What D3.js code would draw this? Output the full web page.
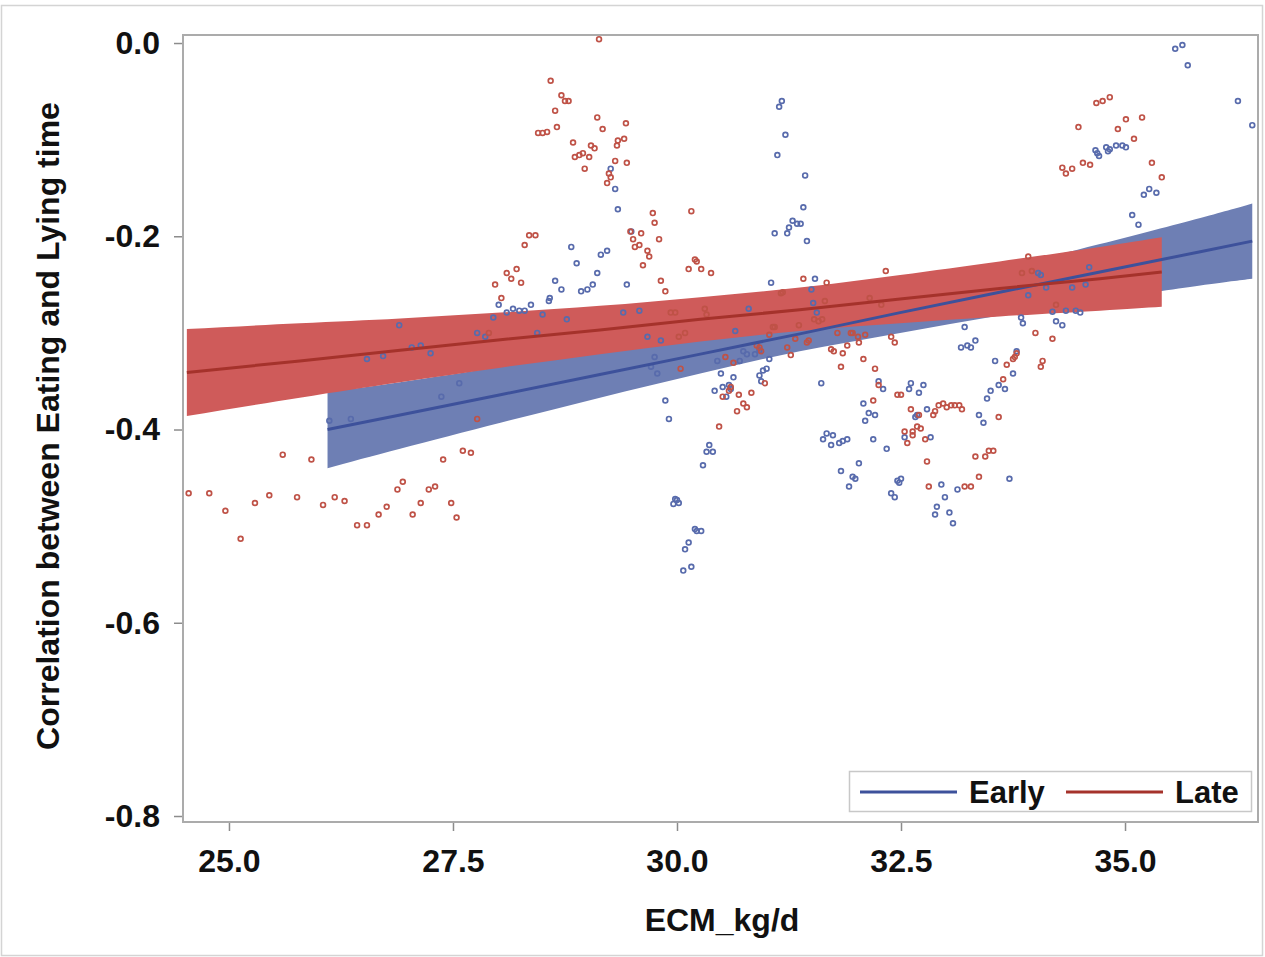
<!DOCTYPE html>
<html><head><meta charset="utf-8">
<script src="https://cdn.jsdelivr.net/npm/d3@7"></script>
<style>
html,body{margin:0;padding:0;background:#fff;}
svg{display:block;font-family:"Liberation Sans",Arial,sans-serif;}
</style></head>
<body>
<svg id="chart" width="1265" height="957"></svg>
<script>
// ---- data ----
const xTicks = [25.0, 27.5, 30.0, 32.5, 35.0];
const yTicks = [0.0, -0.2, -0.4, -0.6, -0.8];
const groups = ["Early", "Late"];

const earlyPoints = [[26.12,-0.391],[26.36,-0.389],[26.54,-0.327],[26.72,-0.324],[26.90,-0.292],[27.04,-0.315],[27.14,-0.313],[27.25,-0.321],[27.37,-0.366],[27.57,-0.352],[27.77,-0.300],[27.86,-0.304],[27.95,-0.284],[28.01,-0.271],[28.10,-0.279],[28.17,-0.275],[28.24,-0.277],[28.30,-0.277],[28.37,-0.271],[28.50,-0.281],[28.57,-0.267],[28.44,-0.300],[28.77,-0.286],[28.58,-0.264],[28.64,-0.246],[28.71,-0.255],[28.93,-0.257],[29.00,-0.255],[29.06,-0.250],[29.11,-0.238],[29.15,-0.219],[29.22,-0.215],[28.82,-0.211],[28.88,-0.228],[29.26,-0.130],[29.31,-0.151],[29.34,-0.172],[29.49,-0.195],[29.44,-0.250],[29.40,-0.279],[29.58,-0.277],[29.67,-0.304],[29.82,-0.308],[29.75,-0.325],[29.71,-0.335],[29.78,-0.342],[29.87,-0.370],[29.91,-0.389],[30.36,-0.416],[30.33,-0.423],[30.40,-0.423],[30.29,-0.437],[29.98,-0.472],[29.96,-0.477],[30.02,-0.476],[30.00,-0.473],[30.20,-0.503],[30.27,-0.505],[30.22,-0.505],[30.13,-0.517],[30.09,-0.524],[30.16,-0.542],[30.07,-0.546],[30.42,-0.360],[30.49,-0.342],[30.51,-0.356],[30.55,-0.366],[30.58,-0.354],[30.60,-0.358],[30.63,-0.346],[30.45,-0.329],[30.65,-0.298],[30.80,-0.275],[30.74,-0.319],[30.78,-0.322],[30.70,-0.329],[30.87,-0.322],[30.92,-0.318],[31.03,-0.327],[30.92,-0.344],[30.96,-0.339],[31.00,-0.337],[30.94,-0.350],[31.05,-0.248],[31.17,-0.060],[31.14,-0.066],[31.21,-0.095],[31.12,-0.116],[31.43,-0.137],[31.41,-0.170],[31.29,-0.184],[31.34,-0.187],[31.38,-0.187],[31.25,-0.191],[31.23,-0.197],[31.09,-0.197],[31.45,-0.205],[31.54,-0.244],[31.50,-0.255],[31.52,-0.269],[31.56,-0.279],[31.61,-0.352],[31.63,-0.410],[31.67,-0.404],[31.72,-0.416],[31.74,-0.406],[31.81,-0.414],[31.85,-0.412],[31.90,-0.410],[32.25,-0.350],[32.30,-0.358],[32.08,-0.373],[32.14,-0.383],[32.21,-0.385],[32.10,-0.391],[32.19,-0.410],[32.34,-0.420],[32.03,-0.435],[31.83,-0.443],[31.96,-0.449],[31.99,-0.451],[31.92,-0.459],[32.61,-0.352],[32.59,-0.358],[32.75,-0.354],[32.70,-0.362],[32.79,-0.379],[32.66,-0.387],[32.68,-0.385],[32.54,-0.408],[32.83,-0.408],[32.50,-0.451],[32.48,-0.455],[32.46,-0.453],[32.39,-0.466],[32.43,-0.470],[32.95,-0.457],[33.13,-0.462],[32.99,-0.470],[32.90,-0.480],[32.88,-0.488],[33.04,-0.486],[33.08,-0.497],[33.21,-0.294],[33.17,-0.315],[33.24,-0.313],[33.28,-0.315],[33.33,-0.308],[33.37,-0.385],[33.42,-0.393],[33.46,-0.368],[33.50,-0.360],[33.55,-0.329],[33.59,-0.354],[33.66,-0.358],[33.75,-0.342],[33.79,-0.319],[33.84,-0.284],[33.86,-0.290],[33.92,-0.261],[33.71,-0.451],[34.03,-0.238],[34.06,-0.240],[35.56,-0.006],[35.64,-0.002],[35.70,-0.023],[36.26,-0.060],[36.42,-0.085],[34.67,-0.111],[34.69,-0.114],[34.71,-0.117],[34.79,-0.108],[34.81,-0.112],[34.83,-0.110],[34.90,-0.106],[34.97,-0.106],[35.01,-0.108],[35.21,-0.157],[35.27,-0.151],[35.35,-0.155],[35.08,-0.178],[35.15,-0.188],[34.60,-0.232],[34.41,-0.253],[34.56,-0.250],[34.12,-0.253],[34.19,-0.278],[34.34,-0.277],[34.45,-0.277],[34.50,-0.279],[34.23,-0.288],[34.30,-0.292]];

const latePoints = [[24.55,-0.466],[24.78,-0.466],[24.96,-0.484],[25.13,-0.513],[25.29,-0.476],[25.45,-0.468],[25.60,-0.426],[25.76,-0.470],[25.92,-0.431],[26.05,-0.478],[26.18,-0.470],[26.29,-0.474],[26.43,-0.499],[26.54,-0.499],[26.67,-0.488],[26.76,-0.480],[26.88,-0.462],[26.94,-0.454],[29.13,0.004],[28.59,-0.039],[28.71,-0.054],[28.75,-0.060],[28.79,-0.060],[28.64,-0.070],[28.66,-0.087],[28.45,-0.093],[28.50,-0.093],[28.55,-0.092],[29.11,-0.077],[29.17,-0.089],[28.84,-0.103],[29.04,-0.106],[29.08,-0.109],[28.86,-0.118],[28.91,-0.116],[28.95,-0.114],[29.02,-0.118],[28.97,-0.130],[29.34,-0.101],[29.33,-0.106],[29.31,-0.122],[29.24,-0.135],[29.26,-0.139],[29.22,-0.145],[28.35,-0.199],[28.42,-0.199],[28.30,-0.209],[28.10,-0.238],[28.21,-0.234],[28.15,-0.244],[28.26,-0.248],[27.97,-0.250],[28.04,-0.264],[27.90,-0.300],[27.77,-0.389],[27.61,-0.422],[27.70,-0.424],[27.39,-0.431],[27.23,-0.462],[27.30,-0.459],[27.14,-0.476],[27.48,-0.476],[27.05,-0.488],[27.54,-0.491],[29.43,-0.083],[29.41,-0.099],[29.44,-0.124],[29.73,-0.176],[29.75,-0.186],[30.16,-0.174],[29.48,-0.195],[29.60,-0.197],[29.51,-0.203],[29.80,-0.203],[29.53,-0.211],[29.58,-0.209],[29.67,-0.215],[29.69,-0.221],[29.62,-0.230],[30.20,-0.224],[30.22,-0.226],[30.13,-0.234],[30.27,-0.234],[30.38,-0.238],[29.82,-0.246],[29.87,-0.257],[31.41,-0.244],[31.67,-0.248],[31.16,-0.259],[29.93,-0.279],[29.98,-0.279],[30.31,-0.275],[30.33,-0.281],[30.02,-0.304],[30.09,-0.300],[30.04,-0.337],[30.54,-0.325],[30.63,-0.331],[30.51,-0.366],[30.58,-0.360],[30.60,-0.356],[30.69,-0.364],[30.83,-0.362],[30.74,-0.373],[30.78,-0.377],[30.67,-0.381],[30.47,-0.397],[30.89,-0.313],[30.94,-0.319],[30.92,-0.315],[30.98,-0.352],[31.03,-0.302],[31.07,-0.294],[31.09,-0.294],[31.23,-0.315],[31.27,-0.323],[31.32,-0.306],[31.36,-0.292],[31.45,-0.310],[31.47,-0.308],[31.53,-0.286],[31.58,-0.288],[31.62,-0.286],[31.65,-0.267],[31.72,-0.317],[31.75,-0.319],[31.18,-0.258],[33.92,-0.221],[32.33,-0.236],[33.85,-0.238],[33.96,-0.236],[32.15,-0.264],[32.28,-0.271],[31.79,-0.300],[31.94,-0.300],[31.96,-0.300],[32.02,-0.304],[32.10,-0.302],[32.03,-0.310],[31.90,-0.313],[32.39,-0.304],[32.43,-0.310],[31.85,-0.321],[32.08,-0.327],[31.83,-0.335],[32.21,-0.337],[32.25,-0.354],[32.46,-0.364],[32.50,-0.364],[32.19,-0.370],[32.61,-0.379],[32.70,-0.385],[32.86,-0.385],[32.88,-0.381],[32.92,-0.375],[32.97,-0.373],[33.01,-0.377],[33.06,-0.375],[33.10,-0.375],[33.15,-0.375],[33.18,-0.379],[32.54,-0.402],[32.63,-0.402],[32.68,-0.397],[32.72,-0.399],[32.63,-0.406],[32.57,-0.414],[32.77,-0.410],[32.79,-0.433],[33.33,-0.428],[33.44,-0.428],[33.48,-0.422],[33.53,-0.422],[33.37,-0.449],[32.81,-0.459],[33.21,-0.459],[33.28,-0.459],[33.59,-0.387],[33.64,-0.348],[33.68,-0.333],[33.75,-0.327],[33.77,-0.325],[33.79,-0.321],[34.00,-0.300],[34.06,-0.335],[34.08,-0.329],[34.68,-0.062],[34.75,-0.060],[34.83,-0.056],[34.48,-0.087],[34.92,-0.089],[35.01,-0.079],[35.19,-0.077],[35.10,-0.099],[34.30,-0.129],[34.34,-0.135],[34.41,-0.130],[34.53,-0.124],[34.61,-0.126],[35.30,-0.124],[35.41,-0.139],[34.23,-0.271],[34.19,-0.306]];

// regression fit and 95% confidence band, read at several x positions
const earlyBandX = [26.10, 26.91, 28.03, 29.14, 30.26, 31.37, 32.49, 33.60, 34.72, 35.84, 36.42];
const earlyLower = [-0.440, -0.420, -0.393, -0.367, -0.342, -0.319, -0.300, -0.282, -0.266, -0.251, -0.244];
const earlyUpper = [-0.361, -0.351, -0.335, -0.319, -0.302, -0.282, -0.259, -0.234, -0.208, -0.181, -0.166];
const earlyFit   = [-0.400, -0.385, -0.364, -0.343, -0.322, -0.301, -0.279, -0.258, -0.237, -0.216, -0.205];

const lateBandX = [24.53, 25.79, 26.91, 28.03, 29.14, 30.26, 31.37, 32.49, 33.60, 34.72, 35.41];
const lateLower = [-0.386, -0.367, -0.351, -0.336, -0.322, -0.309, -0.298, -0.290, -0.283, -0.277, -0.273];
const lateUpper = [-0.296, -0.290, -0.285, -0.279, -0.272, -0.263, -0.253, -0.240, -0.226, -0.211, -0.201];
const lateFit   = [-0.341, -0.329, -0.318, -0.307, -0.297, -0.286, -0.276, -0.265, -0.254, -0.244, -0.237];

// ---- layout / style ----
const plot = {left: 183, top: 35, right: 1258, bottom: 822};
const colors = {
  Early: {band: "#6E7FB4", line: "#3D519B", marker: "#586BAC"},
  Late:  {band: "#CF5B5A", line: "#A5322B", marker: "#BF5247"}
};
const font = '"Liberation Sans", Arial, sans-serif';

const svg = d3.select("#chart");
const x = d3.scaleLinear().domain([24.487, 36.484]).range([plot.left, plot.right]);
const y = d3.scaleLinear().domain([-0.8062, 0.0083]).range([plot.bottom, plot.top]);

// outer image border
svg.append("rect").attr("x", 1.5).attr("y", 5.5).attr("width", 1261).attr("height", 950)
  .attr("fill", "none").attr("stroke", "#D4D4D4").attr("stroke-width", 1.5);

svg.append("defs").append("clipPath").attr("id", "clip")
  .append("rect").attr("x", plot.left).attr("y", plot.top)
  .attr("width", plot.right - plot.left).attr("height", plot.bottom - plot.top);

const g = svg.append("g").attr("clip-path", "url(#clip)");

function bandData(xs, lo, hi, fit) { return xs.map((v, i) => ({x: v, lo: lo[i], hi: hi[i], fit: fit[i]})); }
const bands = {
  Early: bandData(earlyBandX, earlyLower, earlyUpper, earlyFit),
  Late: bandData(lateBandX, lateLower, lateUpper, lateFit)
};
const area = d3.area().x(d => x(d.x)).y0(d => y(d.lo)).y1(d => y(d.hi)).curve(d3.curveNatural);
const line = d3.line().x(d => x(d.x)).y(d => y(d.fit));

// bands (Early below Late)
groups.forEach(k => {
  g.append("path").datum(bands[k]).attr("d", area).attr("fill", colors[k].band);
});

// scatter markers
const pts = {Early: earlyPoints, Late: latePoints};
groups.forEach(k => {
  g.append("g").selectAll("circle").data(pts[k]).join("circle")
    .attr("cx", d => x(d[0])).attr("cy", d => y(d[1])).attr("r", 2.4)
    .attr("fill", "none").attr("stroke", colors[k].marker).attr("stroke-width", 1.7);
});

// fit lines
groups.forEach(k => {
  g.append("path").datum(bands[k]).attr("d", line).attr("fill", "none")
    .attr("stroke", colors[k].line).attr("stroke-width", 3);
});

// frame
svg.append("rect").attr("x", plot.left).attr("y", plot.top)
  .attr("width", plot.right - plot.left).attr("height", plot.bottom - plot.top)
  .attr("fill", "none").attr("stroke", "#ABABAB").attr("stroke-width", 2);

// axes
const fmt = d => d3.format(".1f")(d).replace("\u2212", "-");
const yAxis = d3.axisLeft(y).tickValues(yTicks).tickSize(8).tickPadding(14).tickFormat(fmt);
const xAxis = d3.axisBottom(x).tickValues(xTicks).tickSize(8).tickPadding(18).tickFormat(fmt);
const ya = svg.append("g").attr("transform", `translate(${plot.left - 1},0)`).call(yAxis);
const xa = svg.append("g").attr("transform", `translate(0,${plot.bottom + 1})`).call(xAxis);
[ya, xa].forEach(a => {
  a.select(".domain").remove();
  a.selectAll(".tick line").attr("stroke", "#8C8C8C").attr("stroke-width", 1.5);
  a.selectAll(".tick text").attr("font-family", font).attr("font-size", 32)
    .attr("font-weight", "bold").attr("fill", "#111");
});

// axis labels
svg.append("text").attr("transform", "translate(59,426) rotate(-90)")
  .attr("text-anchor", "middle").attr("font-family", font).attr("font-size", 32)
  .attr("font-weight", "bold").attr("fill", "#111")
  .text("Correlation between Eating and Lying time");
svg.append("text").attr("x", 722).attr("y", 931).attr("text-anchor", "middle")
  .attr("font-family", font).attr("font-size", 32).attr("font-weight", "bold").attr("fill", "#111")
  .text("ECM_kg/d");

// legend
const lg = svg.append("g");
lg.append("rect").attr("x", 849.5).attr("y", 771.5).attr("width", 402).attr("height", 40)
  .attr("fill", "#fff").attr("stroke", "#C8C8C8").attr("stroke-width", 1.5);
const legendItems = [{k: "Early", x0: 860}, {k: "Late", x0: 1066}];
legendItems.forEach(it => {
  lg.append("line").attr("x1", it.x0).attr("x2", it.x0 + 97).attr("y1", 792).attr("y2", 792)
    .attr("stroke", colors[it.k].line).attr("stroke-width", 3);
  lg.append("text").attr("x", it.x0 + 109).attr("y", 803).attr("font-family", font)
    .attr("font-size", 31).attr("font-weight", "bold").attr("fill", "#111").text(it.k);
});
</script>
</body></html>
